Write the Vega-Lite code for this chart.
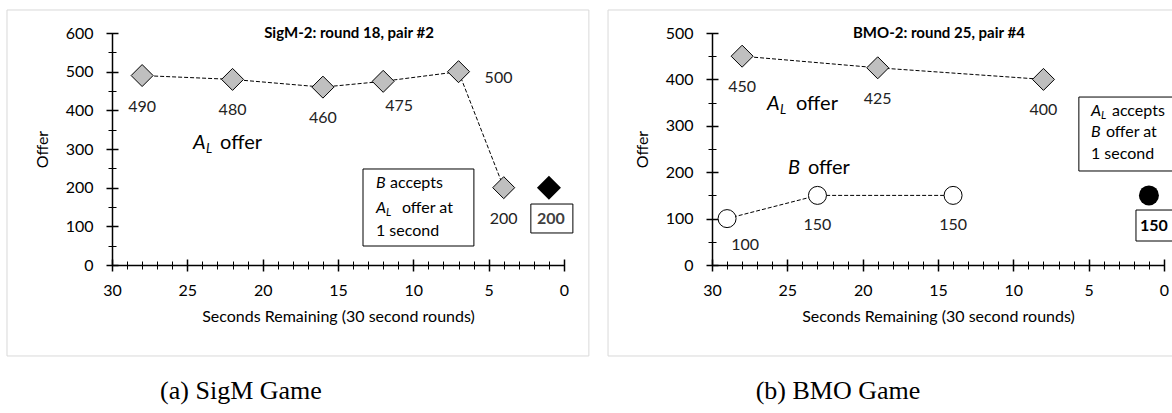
{
  "$schema": "https://vega.github.io/schema/vega-lite/v6.json",
  "padding": {"left": 6, "top": 9, "right": 0, "bottom": 0},
  "spacing": 17,
  "datasets": {
    "sigm": [
      {"t": 28, "offer": 490, "s": "AL"},
      {"t": 22, "offer": 480, "s": "AL"},
      {"t": 16, "offer": 460, "s": "AL"},
      {"t": 12, "offer": 475, "s": "AL"},
      {"t": 7, "offer": 500, "s": "AL"},
      {"t": 4, "offer": 200, "s": "AL"},
      {"t": 1, "offer": 200, "s": "accepted"}
    ],
    "bmo": [
      {"t": 28, "offer": 450, "s": "AL"},
      {"t": 19, "offer": 425, "s": "AL"},
      {"t": 8, "offer": 400, "s": "AL"},
      {"t": 29, "offer": 100, "s": "B"},
      {"t": 23, "offer": 150, "s": "B"},
      {"t": 14, "offer": 150, "s": "B"},
      {"t": 1, "offer": 150, "s": "accepted"}
    ]
  },
  "hconcat": [
    {
      "width": 452,
      "height": 232,
      "data": {"name": "sigm"},
      "resolve": {"axis": {"x": "independent", "y": "independent"}},
      "layer": [
        {
          "data": {"values": [{}]},
          "mark": {"type": "rect", "fill": "#ffffff", "fillOpacity": 0, "stroke": "#d9d9d9", "strokeWidth": 1},
          "encoding": {
            "x": {"datum": 36.97, "type": "quantitative", "scale": {"domain": [0, 30], "reverse": true, "nice": false, "zero": false}, "axis": null},
            "x2": {"datum": -1.65},
            "y": {"datum": 659.5, "type": "quantitative", "scale": {"domain": [0, 600], "nice": false, "zero": false}, "axis": null},
            "y2": {"datum": -235.3}
          }
        },
        {
          "transform": [{"filter": "datum.s === 'AL'"}],
          "mark": {"type": "line", "color": "#000000", "strokeWidth": 1, "strokeDash": [4, 2]},
          "encoding": {
            "x": {"field": "t", "type": "quantitative", "scale": {"domain": [0, 30], "reverse": true, "nice": false, "zero": false},
              "axis": {"orient": "bottom", "values": [0, 5, 10, 15, 20, 25, 30], "ticks": false, "domain": true, "domainColor": "#000000", "domainWidth": 1.5, "labelFont": "Lato", "labelFontSize": 16, "labelColor": "#000000", "labelPadding": 17, "labelFlush": false, "labelOverlap": false, "title": "Seconds Remaining (30 second rounds)", "titleFont": "Lato", "titleFontSize": 16, "titleFontWeight": "normal", "titleColor": "#000000", "titlePadding": 10, "grid": false}},
            "y": {"field": "offer", "type": "quantitative", "scale": {"domain": [0, 600], "nice": false, "zero": false},
              "axis": {"orient": "left", "values": [0, 100, 200, 300, 400, 500, 600], "ticks": false, "domain": true, "domainColor": "#000000", "domainWidth": 1.5, "labelFont": "Lato", "labelFontSize": 16, "labelColor": "#000000", "labelPadding": 19, "labelOverlap": false, "title": "Offer", "titleFont": "Lato", "titleFontSize": 16, "titleFontWeight": "normal", "titleColor": "#000000", "titlePadding": 15, "grid": false}}
          }
        },
        {
          "transform": [{"filter": "datum.s === 'AL'"}],
          "mark": {"type": "point", "shape": "diamond", "filled": true, "fill": "#bfbfbf", "stroke": "#000000", "strokeWidth": 1, "size": 484, "opacity": 1},
          "encoding": {
            "x": {"field": "t", "type": "quantitative", "scale": {"domain": [0, 30], "reverse": true, "nice": false, "zero": false},
              "axis": {"orient": "bottom", "values": [0, 5, 10, 15, 20, 25, 30], "ticks": true, "tickSize": 12, "tickWidth": 1.5, "tickColor": "#000000", "offset": -6, "domain": false, "labels": false, "title": null, "grid": false}},
            "y": {"field": "offer", "type": "quantitative", "scale": {"domain": [0, 600], "nice": false, "zero": false},
              "axis": {"orient": "left", "values": [0, 100, 200, 300, 400, 500, 600], "ticks": true, "tickSize": 12, "tickWidth": 1.5, "tickColor": "#000000", "offset": -6, "domain": false, "labels": false, "title": null, "grid": false}}
          }
        },
        {
          "transform": [{"filter": "datum.s === 'accepted'"}],
          "mark": {"type": "point", "shape": "diamond", "filled": true, "fill": "#000000", "strokeWidth": 0, "size": 576, "opacity": 1},
          "encoding": {
            "x": {"field": "t", "type": "quantitative", "scale": {"domain": [0, 30], "reverse": true, "nice": false, "zero": false},
              "axis": {"orient": "bottom", "values": [0, 1, 2, 3, 4, 5, 6, 7, 8, 9, 10, 11, 12, 13, 14, 15, 16, 17, 18, 19, 20, 21, 22, 23, 24, 25, 26, 27, 28, 29, 30], "ticks": true, "tickSize": 8, "tickWidth": 1, "tickColor": "#000000", "offset": -4, "domain": false, "labels": false, "title": null, "grid": false}},
            "y": {"field": "offer", "type": "quantitative", "scale": {"domain": [0, 600], "nice": false, "zero": false},
              "axis": {"orient": "left", "values": [50, 150, 250, 350, 450, 550], "ticks": true, "tickSize": 8, "tickWidth": 1, "tickColor": "#000000", "offset": -4, "domain": false, "labels": false, "title": null, "grid": false}}
          }
        },
        {
          "transform": [{"filter": "datum.s === 'AL' && (datum.t === 28 || datum.t === 22 || datum.t === 16 || datum.t === 4)"}],
          "mark": {"type": "text", "font": "Lato", "fontSize": 16, "color": "#222222", "dy": 31, "baseline": "middle", "align": "center"},
          "encoding": {
            "x": {"field": "t", "type": "quantitative", "axis": null},
            "y": {"field": "offer", "type": "quantitative", "axis": null},
            "text": {"field": "offer", "type": "quantitative"}
          }
        },
        {
          "transform": [{"filter": "datum.t === 12"}],
          "mark": {"type": "text", "font": "Lato", "fontSize": 16, "color": "#222222", "dx": 16, "dy": 25, "baseline": "middle", "align": "center"},
          "encoding": {
            "x": {"field": "t", "type": "quantitative", "axis": null},
            "y": {"field": "offer", "type": "quantitative", "axis": null},
            "text": {"field": "offer", "type": "quantitative"}
          }
        },
        {
          "transform": [{"filter": "datum.t === 7"}],
          "mark": {"type": "text", "font": "Lato", "fontSize": 16, "color": "#222222", "dx": 40, "dy": 6, "baseline": "middle", "align": "center"},
          "encoding": {
            "x": {"field": "t", "type": "quantitative", "axis": null},
            "y": {"field": "offer", "type": "quantitative", "axis": null},
            "text": {"field": "offer", "type": "quantitative"}
          }
        },
        {
          "data": {"values": [{}]},
          "mark": {"type": "rect", "fill": "#ffffff", "stroke": "#000000", "strokeWidth": 1},
          "encoding": {
            "x": {"datum": 2.2, "type": "quantitative", "axis": null},
            "x2": {"datum": -0.59},
            "y": {"datum": 157.7, "type": "quantitative", "axis": null},
            "y2": {"datum": 82.8}
          }
        },
        {
          "transform": [{"filter": "datum.s === 'accepted'"}],
          "mark": {"type": "text", "font": "Lato", "fontSize": 16, "fontWeight": "bold", "color": "#404040", "dx": 2, "dy": 31, "baseline": "middle", "align": "center"},
          "encoding": {
            "x": {"field": "t", "type": "quantitative", "axis": null},
            "y": {"field": "offer", "type": "quantitative", "axis": null},
            "text": {"field": "offer", "type": "quantitative"}
          }
        },
        {
          "data": {"values": [{}]},
          "mark": {"type": "text", "text": "SigM-2: round 18, pair #2", "font": "Lato", "fontSize": 15, "fontWeight": "bold", "color": "#000000", "align": "center", "baseline": "middle"},
          "encoding": {"x": {"datum": 14.27, "type": "quantitative", "axis": null}, "y": {"datum": 600, "type": "quantitative", "axis": null}}
        },
        {
          "data": {"values": [{}]},
          "mark": {"type": "text", "text": "A", "font": "Lato", "fontSize": 20, "fontStyle": "italic", "color": "#000000", "align": "left", "baseline": "middle"},
          "encoding": {"x": {"datum": 24.62, "type": "quantitative", "axis": null}, "y": {"datum": 315.5, "type": "quantitative", "axis": null}}
        },
        {
          "data": {"values": [{}]},
          "mark": {"type": "text", "text": "L", "font": "Lato", "fontSize": 13, "fontStyle": "italic", "color": "#000000", "align": "left", "baseline": "middle", "dx": 13, "dy": 6},
          "encoding": {"x": {"datum": 24.62, "type": "quantitative", "axis": null}, "y": {"datum": 315.5, "type": "quantitative", "axis": null}}
        },
        {
          "data": {"values": [{}]},
          "mark": {"type": "text", "text": "offer", "font": "Lato", "fontSize": 20, "color": "#000000", "align": "left", "baseline": "middle", "dx": 27},
          "encoding": {"x": {"datum": 24.62, "type": "quantitative", "axis": null}, "y": {"datum": 315.5, "type": "quantitative", "axis": null}}
        },
        {
          "data": {"values": [{}]},
          "mark": {"type": "rect", "fill": "#ffffff", "stroke": "#000000", "strokeWidth": 1},
          "encoding": {
            "x": {"datum": 13.34, "type": "quantitative", "axis": null},
            "x2": {"datum": 5.98},
            "y": {"datum": 248.3, "type": "quantitative", "axis": null},
            "y2": {"datum": 49.1}
          }
        },
        {
          "data": {"values": [{}]},
          "mark": {"type": "text", "text": "B", "font": "Lato", "fontSize": 16, "fontStyle": "italic", "color": "#000000", "align": "left", "baseline": "middle"},
          "encoding": {"x": {"datum": 12.48, "type": "quantitative", "axis": null}, "y": {"datum": 212, "type": "quantitative", "axis": null}}
        },
        {
          "data": {"values": [{}]},
          "mark": {"type": "text", "text": "accepts", "font": "Lato", "fontSize": 16, "color": "#000000", "align": "left", "baseline": "middle", "dx": 14},
          "encoding": {"x": {"datum": 12.48, "type": "quantitative", "axis": null}, "y": {"datum": 212, "type": "quantitative", "axis": null}}
        },
        {
          "data": {"values": [{}]},
          "mark": {"type": "text", "text": "A", "font": "Lato", "fontSize": 16, "fontStyle": "italic", "color": "#000000", "align": "left", "baseline": "middle"},
          "encoding": {"x": {"datum": 12.48, "type": "quantitative", "axis": null}, "y": {"datum": 147.4, "type": "quantitative", "axis": null}}
        },
        {
          "data": {"values": [{}]},
          "mark": {"type": "text", "text": "L", "font": "Lato", "fontSize": 11, "fontStyle": "italic", "color": "#000000", "align": "left", "baseline": "middle", "dx": 10, "dy": 5},
          "encoding": {"x": {"datum": 12.48, "type": "quantitative", "axis": null}, "y": {"datum": 147.4, "type": "quantitative", "axis": null}}
        },
        {
          "data": {"values": [{}]},
          "mark": {"type": "text", "text": "offer at", "font": "Lato", "fontSize": 16, "color": "#000000", "align": "left", "baseline": "middle", "dx": 26},
          "encoding": {"x": {"datum": 12.48, "type": "quantitative", "axis": null}, "y": {"datum": 147.4, "type": "quantitative", "axis": null}}
        },
        {
          "data": {"values": [{}]},
          "mark": {"type": "text", "text": "1 second", "font": "Lato", "fontSize": 16, "color": "#000000", "align": "left", "baseline": "middle"},
          "encoding": {"x": {"datum": 12.48, "type": "quantitative", "axis": null}, "y": {"datum": 88, "type": "quantitative", "axis": null}}
        },
        {
          "data": {"values": [{}]},
          "mark": {"type": "text", "text": "(a) SigM Game", "font": "Liberation Serif", "fontSize": 26, "color": "#000000", "align": "center", "baseline": "middle"},
          "encoding": {"x": {"datum": 21.44, "type": "quantitative", "axis": null}, "y": {"datum": -325.8, "type": "quantitative", "axis": null}}
        }
      ]
    },
    {
      "width": 452,
      "height": 232,
      "data": {"name": "bmo"},
      "resolve": {"axis": {"x": "independent", "y": "independent"}},
      "layer": [
        {
          "data": {"values": [{}]},
          "mark": {"type": "rect", "fill": "#ffffff", "fillOpacity": 0, "stroke": "#d9d9d9", "strokeWidth": 1},
          "encoding": {
            "x": {"datum": 36.9, "type": "quantitative", "scale": {"domain": [0, 30], "reverse": true, "nice": false, "zero": false}, "axis": null},
            "x2": {"datum": -0.66},
            "y": {"datum": 549.6, "type": "quantitative", "scale": {"domain": [0, 500], "nice": false, "zero": false}, "axis": null},
            "y2": {"datum": -196.1}
          }
        },
        {
          "transform": [{"filter": "datum.s !== 'accepted'"}],
          "mark": {"type": "line", "color": "#000000", "strokeWidth": 1, "strokeDash": [4, 2]},
          "encoding": {
            "detail": {"field": "s"},
            "x": {"field": "t", "type": "quantitative", "scale": {"domain": [0, 30], "reverse": true, "nice": false, "zero": false},
              "axis": {"orient": "bottom", "values": [0, 5, 10, 15, 20, 25, 30], "ticks": false, "domain": true, "domainColor": "#000000", "domainWidth": 1.5, "labelFont": "Lato", "labelFontSize": 16, "labelColor": "#000000", "labelPadding": 17, "labelFlush": false, "labelOverlap": false, "title": "Seconds Remaining (30 second rounds)", "titleFont": "Lato", "titleFontSize": 16, "titleFontWeight": "normal", "titleColor": "#000000", "titlePadding": 10, "grid": false}},
            "y": {"field": "offer", "type": "quantitative", "scale": {"domain": [0, 500], "nice": false, "zero": false},
              "axis": {"orient": "left", "values": [0, 100, 200, 300, 400, 500], "ticks": false, "domain": true, "domainColor": "#000000", "domainWidth": 1.5, "labelFont": "Lato", "labelFontSize": 16, "labelColor": "#000000", "labelPadding": 19, "labelOverlap": false, "title": "Offer", "titleFont": "Lato", "titleFontSize": 16, "titleFontWeight": "normal", "titleColor": "#000000", "titlePadding": 15, "grid": false}}
          }
        },
        {
          "transform": [{"filter": "datum.s === 'AL'"}],
          "mark": {"type": "point", "shape": "diamond", "filled": true, "fill": "#bfbfbf", "stroke": "#000000", "strokeWidth": 1, "size": 484, "opacity": 1},
          "encoding": {
            "x": {"field": "t", "type": "quantitative", "scale": {"domain": [0, 30], "reverse": true, "nice": false, "zero": false},
              "axis": {"orient": "bottom", "values": [0, 5, 10, 15, 20, 25, 30], "ticks": true, "tickSize": 12, "tickWidth": 1.5, "tickColor": "#000000", "offset": -6, "domain": false, "labels": false, "title": null, "grid": false}},
            "y": {"field": "offer", "type": "quantitative", "scale": {"domain": [0, 500], "nice": false, "zero": false},
              "axis": {"orient": "left", "values": [0, 100, 200, 300, 400, 500], "ticks": true, "tickSize": 12, "tickWidth": 1.5, "tickColor": "#000000", "offset": -6, "domain": false, "labels": false, "title": null, "grid": false}}
          }
        },
        {
          "transform": [{"filter": "datum.s === 'B'"}],
          "mark": {"type": "point", "shape": "circle", "filled": true, "fill": "#ffffff", "stroke": "#000000", "strokeWidth": 1, "size": 324, "opacity": 1},
          "encoding": {
            "x": {"field": "t", "type": "quantitative", "scale": {"domain": [0, 30], "reverse": true, "nice": false, "zero": false},
              "axis": {"orient": "bottom", "values": [0, 1, 2, 3, 4, 5, 6, 7, 8, 9, 10, 11, 12, 13, 14, 15, 16, 17, 18, 19, 20, 21, 22, 23, 24, 25, 26, 27, 28, 29, 30], "ticks": true, "tickSize": 8, "tickWidth": 1, "tickColor": "#000000", "offset": -4, "domain": false, "labels": false, "title": null, "grid": false}},
            "y": {"field": "offer", "type": "quantitative", "scale": {"domain": [0, 500], "nice": false, "zero": false},
              "axis": {"orient": "left", "values": [50, 150, 250, 350, 450], "ticks": true, "tickSize": 8, "tickWidth": 1, "tickColor": "#000000", "offset": -4, "domain": false, "labels": false, "title": null, "grid": false}}
          }
        },
        {
          "transform": [{"filter": "datum.s === 'accepted'"}],
          "mark": {"type": "point", "shape": "circle", "filled": true, "fill": "#000000", "strokeWidth": 0, "size": 400, "opacity": 1},
          "encoding": {
            "x": {"field": "t", "type": "quantitative", "axis": null},
            "y": {"field": "offer", "type": "quantitative", "axis": null}
          }
        },
        {
          "transform": [{"filter": "datum.s === 'AL'"}],
          "mark": {"type": "text", "font": "Lato", "fontSize": 16, "color": "#222222", "dy": 31, "baseline": "middle", "align": "center"},
          "encoding": {
            "x": {"field": "t", "type": "quantitative", "axis": null},
            "y": {"field": "offer", "type": "quantitative", "axis": null},
            "text": {"field": "offer", "type": "quantitative"}
          }
        },
        {
          "transform": [{"filter": "datum.s === 'B' && datum.t !== 29"}],
          "mark": {"type": "text", "font": "Lato", "fontSize": 16, "color": "#222222", "dy": 30, "baseline": "middle", "align": "center"},
          "encoding": {
            "x": {"field": "t", "type": "quantitative", "axis": null},
            "y": {"field": "offer", "type": "quantitative", "axis": null},
            "text": {"field": "offer", "type": "quantitative"}
          }
        },
        {
          "transform": [{"filter": "datum.t === 29"}],
          "mark": {"type": "text", "font": "Lato", "fontSize": 16, "color": "#222222", "dx": 18, "dy": 26, "baseline": "middle", "align": "center"},
          "encoding": {
            "x": {"field": "t", "type": "quantitative", "axis": null},
            "y": {"field": "offer", "type": "quantitative", "axis": null},
            "text": {"field": "offer", "type": "quantitative"}
          }
        },
        {
          "data": {"values": [{}]},
          "mark": {"type": "rect", "fill": "#ffffff", "stroke": "#000000", "strokeWidth": 1},
          "encoding": {
            "x": {"datum": 1.86, "type": "quantitative", "axis": null},
            "x2": {"datum": -0.66},
            "y": {"datum": 118.5, "type": "quantitative", "axis": null},
            "y2": {"datum": 51.7}
          }
        },
        {
          "transform": [{"filter": "datum.s === 'accepted'"}],
          "mark": {"type": "text", "font": "Lato", "fontSize": 16, "fontWeight": "bold", "color": "#000000", "dx": 5, "dy": 31, "baseline": "middle", "align": "center"},
          "encoding": {
            "x": {"field": "t", "type": "quantitative", "axis": null},
            "y": {"field": "offer", "type": "quantitative", "axis": null},
            "text": {"field": "offer", "type": "quantitative"}
          }
        },
        {
          "data": {"values": [{}]},
          "mark": {"type": "text", "text": "BMO-2: round 25, pair #4", "font": "Lato", "fontSize": 15, "fontWeight": "bold", "color": "#000000", "align": "center", "baseline": "middle"},
          "encoding": {"x": {"datum": 14.94, "type": "quantitative", "axis": null}, "y": {"datum": 500, "type": "quantitative", "axis": null}}
        },
        {
          "data": {"values": [{}]},
          "mark": {"type": "text", "text": "A", "font": "Lato", "fontSize": 20, "fontStyle": "italic", "color": "#000000", "align": "left", "baseline": "middle"},
          "encoding": {"x": {"datum": 26.35, "type": "quantitative", "axis": null}, "y": {"datum": 347, "type": "quantitative", "axis": null}}
        },
        {
          "data": {"values": [{}]},
          "mark": {"type": "text", "text": "L", "font": "Lato", "fontSize": 13, "fontStyle": "italic", "color": "#000000", "align": "left", "baseline": "middle", "dx": 13, "dy": 6},
          "encoding": {"x": {"datum": 26.35, "type": "quantitative", "axis": null}, "y": {"datum": 347, "type": "quantitative", "axis": null}}
        },
        {
          "data": {"values": [{}]},
          "mark": {"type": "text", "text": "offer", "font": "Lato", "fontSize": 20, "color": "#000000", "align": "left", "baseline": "middle", "dx": 29},
          "encoding": {"x": {"datum": 26.35, "type": "quantitative", "axis": null}, "y": {"datum": 347, "type": "quantitative", "axis": null}}
        },
        {
          "data": {"values": [{}]},
          "mark": {"type": "text", "text": "B", "font": "Lato", "fontSize": 20, "fontStyle": "italic", "color": "#000000", "align": "left", "baseline": "middle"},
          "encoding": {"x": {"datum": 24.96, "type": "quantitative", "axis": null}, "y": {"datum": 209, "type": "quantitative", "axis": null}}
        },
        {
          "data": {"values": [{}]},
          "mark": {"type": "text", "text": "offer", "font": "Lato", "fontSize": 20, "color": "#000000", "align": "left", "baseline": "middle", "dx": 20},
          "encoding": {"x": {"datum": 24.96, "type": "quantitative", "axis": null}, "y": {"datum": 209, "type": "quantitative", "axis": null}}
        },
        {
          "data": {"values": [{}]},
          "mark": {"type": "rect", "fill": "#ffffff", "stroke": "#000000", "strokeWidth": 1},
          "encoding": {
            "x": {"datum": 5.65, "type": "quantitative", "axis": null},
            "x2": {"datum": -0.66},
            "y": {"datum": 362, "type": "quantitative", "axis": null},
            "y2": {"datum": 202.6}
          }
        },
        {
          "data": {"values": [{}]},
          "mark": {"type": "text", "text": "A", "font": "Lato", "fontSize": 16, "fontStyle": "italic", "color": "#000000", "align": "left", "baseline": "middle"},
          "encoding": {"x": {"datum": 4.85, "type": "quantitative", "axis": null}, "y": {"datum": 332, "type": "quantitative", "axis": null}}
        },
        {
          "data": {"values": [{}]},
          "mark": {"type": "text", "text": "L", "font": "Lato", "fontSize": 11, "fontStyle": "italic", "color": "#000000", "align": "left", "baseline": "middle", "dx": 10, "dy": 5},
          "encoding": {"x": {"datum": 4.85, "type": "quantitative", "axis": null}, "y": {"datum": 332, "type": "quantitative", "axis": null}}
        },
        {
          "data": {"values": [{}]},
          "mark": {"type": "text", "text": "accepts", "font": "Lato", "fontSize": 16, "color": "#000000", "align": "left", "baseline": "middle", "dx": 21},
          "encoding": {"x": {"datum": 4.85, "type": "quantitative", "axis": null}, "y": {"datum": 332, "type": "quantitative", "axis": null}}
        },
        {
          "data": {"values": [{}]},
          "mark": {"type": "text", "text": "B", "font": "Lato", "fontSize": 16, "fontStyle": "italic", "color": "#000000", "align": "left", "baseline": "middle"},
          "encoding": {"x": {"datum": 4.85, "type": "quantitative", "axis": null}, "y": {"datum": 285.6, "type": "quantitative", "axis": null}}
        },
        {
          "data": {"values": [{}]},
          "mark": {"type": "text", "text": "offer at", "font": "Lato", "fontSize": 16, "color": "#000000", "align": "left", "baseline": "middle", "dx": 15},
          "encoding": {"x": {"datum": 4.85, "type": "quantitative", "axis": null}, "y": {"datum": 285.6, "type": "quantitative", "axis": null}}
        },
        {
          "data": {"values": [{}]},
          "mark": {"type": "text", "text": "1 second", "font": "Lato", "fontSize": 16, "color": "#000000", "align": "left", "baseline": "middle"},
          "encoding": {"x": {"datum": 4.85, "type": "quantitative", "axis": null}, "y": {"datum": 239, "type": "quantitative", "axis": null}}
        },
        {
          "data": {"values": [{}]},
          "mark": {"type": "text", "text": "(b) BMO Game", "font": "Liberation Serif", "fontSize": 26, "color": "#000000", "align": "center", "baseline": "middle"},
          "encoding": {"x": {"datum": 21.64, "type": "quantitative", "axis": null}, "y": {"datum": -271.6, "type": "quantitative", "axis": null}}
        }
      ]
    }
  ],
  "config": {
    "view": {"stroke": null},
    "font": "Lato",
    "axis": {"grid": false}
  }
}
